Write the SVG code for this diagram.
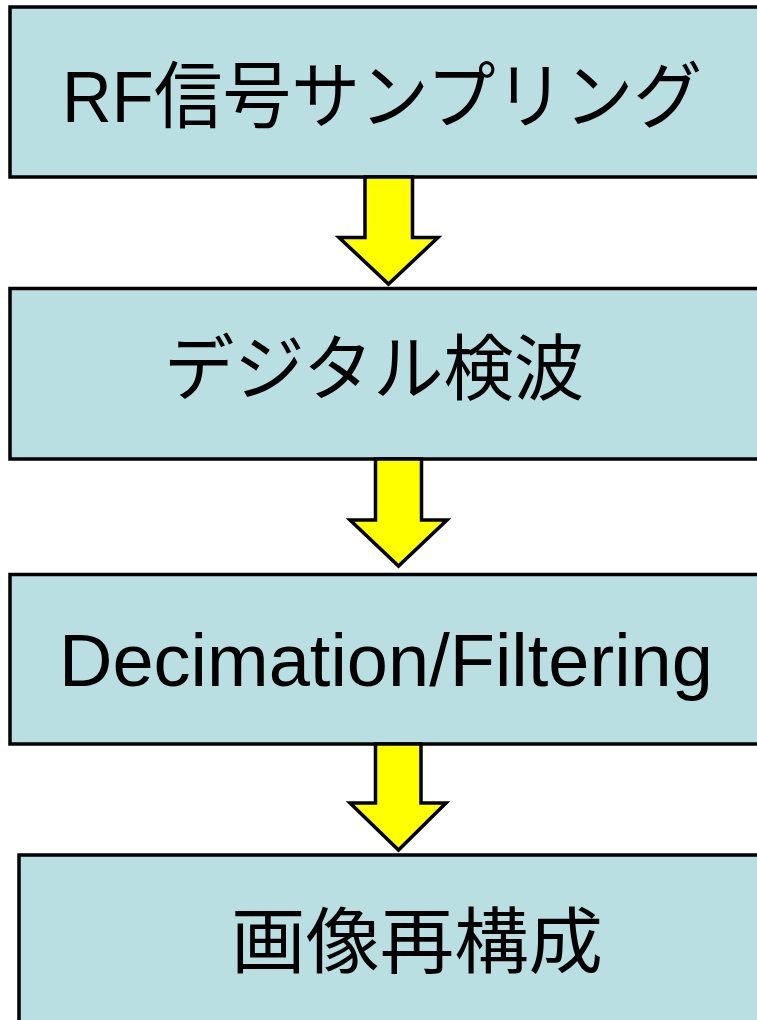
<svg xmlns="http://www.w3.org/2000/svg" width="757" height="1020" viewBox="0 0 757 1020">
<style>
.box{fill:#BADFE3;stroke:#000;stroke-width:3.5}
.lbl{font-family:"Liberation Sans","Noto Sans CJK JP",sans-serif;fill:#000}
.arr{fill:#FFFF00;stroke:#000;stroke-width:3.5;stroke-linejoin:miter}
</style>
<rect width="757" height="1020" fill="#fff"/>
<g id="node1">
<rect class="box" x="10" y="7" width="770" height="170"/>
<text class="lbl" x="62" y="122" font-size="73" textLength="640" lengthAdjust="spacingAndGlyphs">RF信号サンプリング</text>
</g>
<g id="node2">
<rect class="box" x="10" y="288.5" width="770" height="170.5"/>
<text class="lbl" x="164" y="394" font-size="72" textLength="420" lengthAdjust="spacingAndGlyphs">デジタル検波</text>
</g>
<g id="node3">
<rect class="box" x="10" y="574.5" width="770" height="169.5"/>
<text class="lbl" x="59" y="686" font-size="74">Decimation/Filtering</text>
</g>
<g id="node4">
<rect class="box" x="19" y="855" width="770" height="200"/>
<text class="lbl" x="231" y="967" font-size="72" textLength="372" lengthAdjust="spacingAndGlyphs">画像再構成</text>
</g>
<g id="connectors">
<polygon class="arr" points="365,177 412.5,177 412.5,237.5 438,237.5 388.5,284 339,237.5 365,237.5"/>
<polygon class="arr" points="375.5,459 421.5,459 421.5,520 447,520 398.5,566 350,520 375.5,520"/>
<polygon class="arr" points="375.5,744 421,744 421,803 446,803 398.5,850 350,803 375.5,803"/>
</g>
</svg>
